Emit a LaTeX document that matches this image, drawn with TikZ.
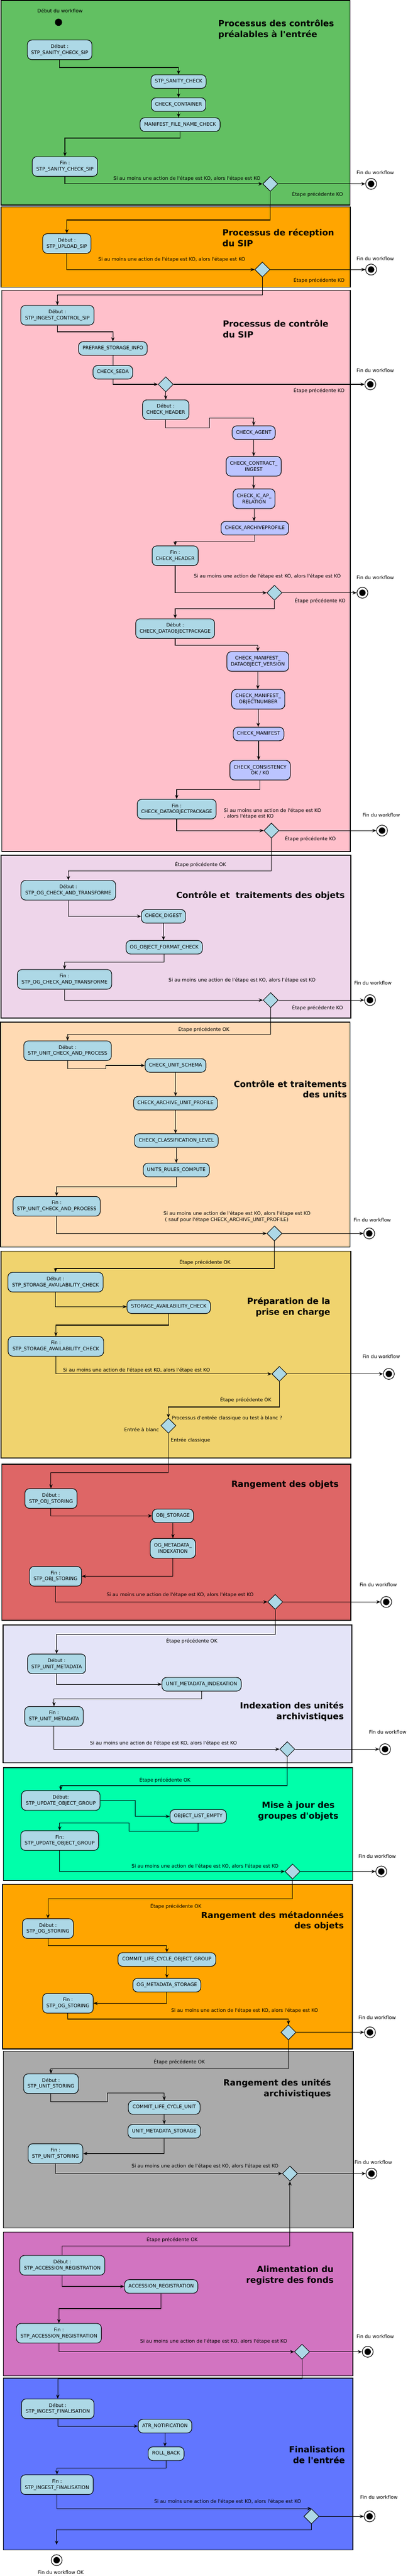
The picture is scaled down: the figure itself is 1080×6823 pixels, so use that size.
\documentclass[tikz,border=0pt]{standalone}
\usepackage{fontspec}
\setmainfont{DejaVu Sans}
\usetikzlibrary{arrows.meta,shapes.geometric}
\definecolor{nodeblue}{RGB}{173,216,230}
\definecolor{nodelav}{RGB}{187,196,255}
\definecolor{cgreen}{RGB}{98,192,98}
\definecolor{corange}{RGB}{255,165,0}
\definecolor{cpink}{RGB}{255,192,203}
\definecolor{clav}{RGB}{238,213,234}
\definecolor{cpeach}{RGB}{255,218,179}
\definecolor{cyellow}{RGB}{240,211,110}
\definecolor{cred}{RGB}{222,102,102}
\definecolor{cblue}{RGB}{228,228,248}
\definecolor{cspring}{RGB}{0,255,170}
\definecolor{cgrey}{RGB}{170,170,170}
\definecolor{corchid}{RGB}{210,116,193}
\definecolor{croyal}{RGB}{97,118,255}
\newcommand\myq{\textquotesingle}
\newcommand\nfont{\fontsize{12.7}{16}\selectfont}
\newcommand\tfont{\fontsize{22.5}{28}\selectfont\bfseries}
\newcommand\siko{Si au moins une action de l\myq étape est KO, alors l\myq étape est KO}
\begin{document}
\begin{tikzpicture}[x=1pt,y=-1pt,
  lane/.style={draw, line width=2.2pt},
  act/.style 2 args={draw, fill=nodeblue, line width=1.5pt, rounded corners=12pt, align=center, inner sep=0pt, font=\nfont, minimum width=#1pt, minimum height=#2pt},
  lact/.style 2 args={act={#1}{#2}, fill=nodelav},
  dia/.style={diamond, draw, fill=nodeblue, line width=1.3pt, minimum width=40pt, minimum height=40pt, inner sep=0pt},
  fin/.style={circle, draw, fill=white, line width=1.5pt, minimum size=29pt, inner sep=0pt, path picture={\fill[black] (path picture bounding box.center) circle (8.5pt);}},
  initst/.style={circle, fill=black, minimum size=19pt, inner sep=0pt},
  lbl/.style={font=\nfont, inner sep=0pt},
  ttl/.style={font=\tfont, inner sep=0pt},
  arr/.style={line width=1.5pt, -{Stealth[length=11pt,width=9pt,inset=4pt]}},
  ln/.style={line width=1.5pt}
]
\fill[white] (0,0) rectangle (1080,6823);
\useasboundingbox (0,0) rectangle (1080,6823);

% ---------- lanes ----------
\draw[lane, fill=cgreen] (3,1) rectangle (927,543);
\draw[lane, fill=corange] (3,548) rectangle (928,761);
\draw[lane, fill=cpink] (5,769) rectangle (928,2256);
\draw[lane, fill=clav] (3,2265) rectangle (929,2696);
\draw[lane, fill=cpeach] (1,2707) rectangle (927,3303);
\draw[lane, fill=cyellow] (3,3314) rectangle (929,3862);
\draw[lane, fill=cred] (5,3878) rectangle (929,4292);
\draw[lane, fill=cblue] (8,4304) rectangle (932,4669);
\draw[lane, fill=cspring] (9,4682) rectangle (934,4981);
\draw[lane, fill=corange] (7,4991) rectangle (933,5427);
\draw[lane, fill=cgrey] (9,5433) rectangle (936,5901);
\draw[lane, fill=corchid] (9,5912) rectangle (935,6293);
\draw[lane, fill=croyal] (9,6299) rectangle (935,6754);

% ---------- lane 1 ----------
\node[lbl] (t0) at (159,28) {Début du workflow};
\node[initst] (s0) at (155,59) {};
\node[ttl, align=left, anchor=west] (T1) at (578,78) {Processus des contrôles\\préalables à l\myq entrée};
\node[act={171}{52}] (n1a) at (158,132) {Début :\\STP\_SANITY\_CHECK\_SIP};
\node[act={146}{36}] (n1b) at (473,216) {STP\_SANITY\_CHECK};
\node[act={144}{36}] (n1c) at (473,277) {CHECK\_CONTAINER};
\node[act={212}{36}] (n1d) at (477,330) {MANIFEST\_FILE\_NAME\_CHECK};
\node[act={173}{52}] (n1e) at (172,441) {Fin :\\STP\_SANITY\_CHECK\_SIP};
\node[dia] (d1) at (716,487) {};
\node[lbl] (l1) at (495,473) {\siko};
\node[fin] (f1) at (983,487) {};
\node[lbl] (w1) at (994,457) {Fin du workflow};
\node[lbl] (k1) at (841,514) {Étape précédente KO};

% ---------- lane 2 ----------
\node[ttl, align=left, anchor=west] (T2) at (589,630) {Processus de réception\\du SIP};
\node[act={128}{52}] (n2a) at (177,645) {Début :\\STP\_UPLOAD\_SIP};
\node[lbl] (l2) at (455,687) {\siko};
\node[dia] (d2) at (695,714) {};
\node[fin] (f2) at (983,714) {};
\node[lbl] (w2) at (994,685) {Fin du workflow};
\node[lbl] (k2) at (845,743) {Étape précédente KO};

% ---------- lane 3 ----------
\node[ttl, align=left, anchor=west] (T3) at (590,871) {Processus de contrôle\\du SIP};
\node[act={194}{52}] (n3a) at (152,835) {Début :\\STP\_INGEST\_CONTROL\_SIP};
\node[act={182}{36}] (n3b) at (299,923) {PREPARE\_STORAGE\_INFO};
\node[act={105}{36}] (n3c) at (299,986) {CHECK\_SEDA};
\node[dia] (d3) at (439,1018) {};
\node[fin] (f3) at (981,1018) {};
\node[lbl] (w3) at (994,981) {Fin du workflow};
\node[lbl] (k3) at (845,1035) {Étape précédente KO};
\node[act={123}{52}] (n3d) at (439,1085) {Début :\\CHECK\_HEADER};
\node[lact={114}{36}] (n3e) at (672,1146) {CHECK\_AGENT};
\node[lact={146}{52}] (n3f) at (672,1235) {CHECK\_CONTRACT\_\\INGEST};
\node[lact={111}{52}] (n3g) at (673,1321) {CHECK\_IC\_AP\_\\RELATION};
\node[lact={179}{36}] (n3h) at (675,1399) {CHECK\_ARCHIVEPROFILE};
\node[act={122}{52}] (n3i) at (464,1472) {Fin :\\CHECK\_HEADER};
\node[lbl] (l3) at (708,1527) {\siko};
\node[dia] (d4) at (727,1570) {};
\node[fin] (f4) at (960,1570) {};
\node[lbl] (w4) at (994,1530) {Fin du workflow};
\node[lbl] (k4) at (848,1591) {Étape précédente KO};
\node[act={209}{52}] (n3j) at (464,1665) {Début :\\CHECK\_DATAOBJECTPACKAGE};
\node[lact={164}{52}] (n3k) at (683,1752) {CHECK\_MANIFEST\_\\DATAOBJECT\_VERSION};
\node[lact={141}{52}] (n3l) at (684,1852) {CHECK\_MANIFEST\_\\OBJECTNUMBER};
\node[lact={134}{36}] (n3m) at (685,1944) {CHECK\_MANIFEST};
\node[lact={160}{52}] (n3n) at (689,2040) {CHECK\_CONSISTENCY\\OK / KO};
\node[act={209}{52}] (n3o) at (468,2143) {Fin :\\CHECK\_DATAOBJECTPACKAGE};
\node[lbl, align=left, anchor=west] (l4) at (593,2155) {Si au moins une action de l\myq étape est KO\\, alors l\myq étape est KO};
\node[dia] (d5) at (719,2200) {};
\node[fin] (f5) at (1012,2200) {};
\node[lbl] (w5) at (1010,2159) {Fin du workflow};
\node[lbl] (k5) at (822,2222) {Étape précédente KO};

% ---------- lane 4 ----------
\node[lbl] (o4) at (531,2290) {Étape précédente OK};
\node[ttl] (T4) at (690,2373) {Contrôle et\ \ traitements des objets};
\node[act={251}{52}] (n4a) at (181,2358) {Début :\\STP\_OG\_CHECK\_AND\_TRANSFORME};
\node[act={117}{36}] (n4b) at (433,2427) {CHECK\_DIGEST};
\node[act={202}{36}] (n4c) at (435,2509) {OG\_OBJECT\_FORMAT\_CHECK};
\node[act={250}{52}] (n4d) at (171,2594) {Fin :\\STP\_OG\_CHECK\_AND\_TRANSFORME};
\node[lbl] (l5) at (641,2596) {\siko};
\node[dia] (d6) at (717,2649) {};
\node[fin] (f6) at (980,2649) {};
\node[lbl] (w6) at (988,2604) {Fin du workflow};
\node[lbl] (k6) at (841,2669) {Étape précédente KO};

% ---------- lane 5 ----------
\node[lbl] (o5) at (540,2727) {Étape précédente OK};
\node[act={232}{52}] (n5a) at (179,2783) {Début :\\STP\_UNIT\_CHECK\_AND\_PROCESS};
\node[act={161}{36}] (n5b) at (465,2822) {CHECK\_UNIT\_SCHEMA};
\node[ttl, align=right, anchor=east] (T5) at (919,2885) {Contrôle et traitements\\des units};
\node[act={222}{36}] (n5c) at (465,2922) {CHECK\_ARCHIVE\_UNIT\_PROFILE};
\node[act={222}{36}] (n5d) at (467,3021) {CHECK\_CLASSIFICATION\_LEVEL};
\node[act={175}{36}] (n5e) at (467,3099) {UNITS\_RULES\_COMPUTE};
\node[act={231}{52}] (n5f) at (150,3195) {Fin :\\STP\_UNIT\_CHECK\_AND\_PROCESS};
\node[lbl, align=left, anchor=west] (l6) at (433,3223) {\siko\\\hspace{4pt}( sauf pour l\myq étape CHECK\_ARCHIVE\_UNIT\_PROFILE)};
\node[dia] (d7) at (727,3267) {};
\node[fin] (f7) at (978,3267) {};
\node[lbl] (w7) at (986,3231) {Fin du workflow};

% ---------- lane 6 ----------
\node[lbl] (o6) at (543,3344) {Étape précédente OK};
\node[act={252}{52}] (n6a) at (147,3396) {Début :\\STP\_STORAGE\_AVAILABILITY\_CHECK};
\node[act={221}{36}] (n6b) at (447,3461) {STORAGE\_AVAILABILITY\_CHECK};
\node[ttl, align=right, anchor=east] (T6) at (875,3462) {Préparation de la\\prise en charge};
\node[act={253}{52}] (n6c) at (148,3566) {Fin :\\STP\_STORAGE\_AVAILABILITY\_CHECK};
\node[lbl, anchor=west] (l7) at (167,3629) {\siko};
\node[dia] (d8) at (740,3639) {};
\node[fin] (f8) at (1030,3639) {};
\node[lbl] (w8) at (1010,3593) {Fin du workflow};
\node[lbl] (o6b) at (651,3708) {Étape précédente OK};
\node[dia] (d9) at (446,3776) {};
\node[lbl, anchor=west] (q9) at (455,3757) {Processus d\myq entrée classique ou test à blanc ?};
\node[lbl, anchor=east] (b9) at (421,3787) {Entrée à blanc};
\node[lbl, anchor=west] (c9) at (452,3815) {Entrée classique};

% ---------- lane 7 ----------
\node[ttl] (T7) at (755,3933) {Rangement des objets};
\node[act={138}{52}] (n7a) at (135,3969) {Début :\\STP\_OBJ\_STORING};
\node[act={109}{36}] (n7b) at (458,4015) {OBJ\_STORAGE};
\node[act={120}{52}] (n7c) at (458,4101) {OG\_METADATA\_\\INDEXATION};
\node[act={138}{52}] (n7d) at (147,4175) {Fin :\\STP\_OBJ\_STORING};
\node[lbl] (l8) at (477,4224) {\siko};
\node[dia] (d10) at (729,4243) {};
\node[fin] (f10) at (1023,4243) {};
\node[lbl] (w10) at (1002,4198) {Fin du workflow};

% ---------- lane 8 ----------
\node[lbl] (o8) at (508,4347) {Étape précédente OK};
\node[act={154}{52}] (n8a) at (150,4407) {Début :\\STP\_UNIT\_METADATA};
\node[act={210}{36}] (n8b) at (534,4461) {UNIT\_METADATA\_INDEXATION};
\node[act={155}{52}] (n8c) at (143,4546) {Fin :\\STP\_UNIT\_METADATA};
\node[ttl, align=right, anchor=east] (T8) at (911,4533) {Indexation des unités\\archivistiques};
\node[lbl] (l9) at (433,4617) {\siko};
\node[dia] (d11) at (761,4633) {};
\node[fin] (f11) at (1020,4633) {};
\node[lbl] (w11) at (1027,4588) {Fin du workflow};

% ---------- lane 9 ----------
\node[lbl] (o9) at (437,4715) {Étape précédente OK};
\node[act={208}{52}] (n9a) at (161,4769) {Début:\\STP\_UPDATE\_OBJECT\_GROUP};
\node[act={149}{36}] (n9b) at (525,4811) {OBJECT\_LIST\_EMPTY};
\node[ttl, align=center] (T9) at (790,4797) {Mise à jour des\\groupes d\myq objets};
\node[act={206}{52}] (n9c) at (158,4875) {Fin:\\STP\_UPDATE\_OBJECT\_GROUP};
\node[lbl] (l10) at (543,4943) {\siko};
\node[dia] (d12) at (775,4957) {};
\node[fin] (f12) at (1010,4957) {};
\node[lbl] (w12) at (999,4917) {Fin du workflow};

% ---------- lane 10 ----------
\node[lbl] (o10) at (466,5049) {Étape précédente OK};
\node[ttl, align=right, anchor=east] (T10) at (911,5088) {Rangement des métadonnées\\des objets};
\node[act={135}{52}] (n10a) at (127,5108) {Début :\\STP\_OG\_STORING};
\node[act={259}{36}] (n10b) at (442,5190) {COMMIT\_LIFE\_CYCLE\_OBJECT\_GROUP};
\node[act={180}{36}] (n10c) at (442,5258) {OG\_METADATA\_STORAGE};
\node[act={134}{52}] (n10d) at (180,5306) {Fin :\\STP\_OG\_STORING};
\node[lbl] (l11) at (648,5326) {\siko};
\node[dia] (d13) at (764,5383) {};
\node[fin] (f13) at (980,5383) {};
\node[lbl] (w13) at (999,5344) {Fin du workflow};

% ---------- lane 11 ----------
\node[lbl] (o11) at (475,5461) {Étape précédente OK};
\node[act={145}{52}] (n11a) at (135,5519) {Début :\\STP\_UNIT\_STORING};
\node[ttl, align=right, anchor=east] (T11) at (877,5532) {Rangement des unités\\archivistiques};
\node[act={190}{36}] (n11b) at (435,5582) {COMMIT\_LIFE\_CYCLE\_UNIT};
\node[act={192}{36}] (n11c) at (435,5645) {UNIT\_METADATA\_STORAGE};
\node[act={145}{52}] (n11d) at (147,5704) {Fin :\\STP\_UNIT\_STORING};
\node[lbl] (l12) at (543,5738) {\siko};
\node[dia] (d14) at (768,5757) {};
\node[fin] (f14) at (984,5757) {};
\node[lbl] (w14) at (989,5727) {Fin du workflow};

% ---------- lane 12 ----------
\node[lbl] (o12) at (456,5932) {Étape précédente OK};
\node[act={225}{52}] (n12a) at (165,6000) {Début :\\STP\_ACCESSION\_REGISTRATION};
\node[ttl, align=right, anchor=east] (T12) at (884,6027) {Alimentation du\\registre des fonds};
\node[act={194}{36}] (n12b) at (427,6056) {ACCESSION\_REGISTRATION};
\node[act={225}{52}] (n12c) at (156,6180) {Fin :\\STP\_ACCESSION\_REGISTRATION};
\node[lbl] (l13) at (566,6202) {\siko};
\node[dia] (d15) at (800,6229) {};
\node[fin] (f15) at (974,6229) {};
\node[lbl] (w15) at (994,6189) {Fin du workflow};

% ---------- lane 13 ----------
\node[act={192}{52}] (n13a) at (153,6380) {Début :\\STP\_INGEST\_FINALISATION};
\node[act={142}{36}] (n13b) at (437,6426) {ATR\_NOTIFICATION};
\node[act={95}{36}] (n13c) at (440,6499) {ROLL\_BACK};
\node[ttl, align=right, anchor=east] (T13) at (914,6502) {Finalisation\\de l\myq entrée};
\node[act={192}{52}] (n13d) at (151,6581) {Fin :\\STP\_INGEST\_FINALISATION};
\node[lbl] (l14) at (603,6626) {\siko};
\node[dia] (d16) at (825,6665) {};
\node[fin] (f16) at (979,6665) {};
\node[lbl] (w16) at (1004,6614) {Fin du workflow};
\coordinate (cOK) at (150,6740);
\node[fin] (fOK) at (150,6781) {};
\node[lbl] (wOK) at (161,6814) {Fin du workflow OK};

% ---------- connectors ----------
\draw[arr] (n1a.south) -- ++(0,20) -| (n1b.north);
\draw[arr] (n1b.south) -- (n1c.north);
\draw[arr] (n1c.south) -- (n1c.south |- n1d.north);
\draw[arr] (n1d.south) -- ++(0,17) -| (n1e.north);
\draw[arr] (n1e.south) |- (d1.west);
\draw[arr] (d1.east) -- (f1.west);
\draw[arr] (d1.south) -- ++(0,75) -| (n2a.north);

\draw[arr] (n2a.south) |- (d2.west);
\draw[arr] (d2.east) -- (f2.west);
\draw[arr] (d2.south) -- ++(0,46) -| (n3a.north);

\draw[arr] (n3a.south) -- ++(0,17) -| (n3b.north);
\draw[ln] (n3b.south) -- (n3c.north);
\draw[arr] (n3c.south) |- (d3.west);
\draw[arr] (d3.east) -- (f3.west);
\draw[arr] (d3.south) -- (n3d.north);
\draw[arr] (n3d.south) -- ++(0,21) -- ++(116,0) -- ++(0,-25) -| (n3e.north);
\draw[arr] (n3e.south) -- (n3e.south |- n3f.north);
\draw[arr] (n3f.south) -- (n3f.south |- n3g.north);
\draw[arr] (n3g.south) -- (n3g.south |- n3h.north);
\draw[arr] (n3h.south) -- ++(0,16) -| (n3i.north);
\draw[arr] (n3i.south) |- (d4.west);
\draw[arr] (d4.east) -- (f4.west);
\draw[arr] (d4.south) -- ++(0,21) -| (n3j.north);
\draw[arr] (n3j.south) -- ++(0,17) -| (n3k.north);
\draw[arr] (n3k.south) -- (n3k.south |- n3l.north);
\draw[arr] (n3l.south) -- (n3l.south |- n3m.north);
\draw[arr] (n3m.south) -- (n3m.south |- n3n.north);
\draw[arr] (n3n.south) -- ++(0,25) -| (n3o.north);
\draw[arr] (n3o.south) |- (d5.west);
\draw[arr] (d5.east) -- (f5.west);
\draw[arr] (d5.south) -- ++(0,86) -| (n4a.north);

\draw[arr] (n4a.south) |- (n4b.west);
\draw[arr] (n4b.south) -- (n4b.south |- n4c.north);
\draw[arr] (n4c.south) -- ++(0,20) -| (n4d.north);
\draw[arr] (n4d.south) |- (d6.west);
\draw[arr] (d6.east) -- (f6.west);
\draw[arr] (d6.south) -- ++(0,70) -| (n5a.north);

\draw[arr] (n5a.south) -- ++(0,21) -- ++(101,0) |- (n5b.west);
\draw[arr] (n5b.south) -- (n5b.south |- n5c.north);
\draw[arr] (n5c.south) -- (n5c.south |- n5d.north);
\draw[arr] (n5d.south) -- (n5d.south |- n5e.north);
\draw[arr] (n5e.south) -- ++(0,26) -| (n5f.north);
\draw[arr] (n5f.south) |- (d7.west);
\draw[arr] (d7.east) -- (f7.west);
\draw[arr] (d7.south) -- ++(0,72) -| (n6a.north);

\draw[arr] (n6a.south) |- (n6b.west);
\draw[arr] (n6b.south) -- ++(0,30) -| (n6c.north);
\draw[arr] (n6c.south) |- (d8.west);
\draw[arr] (d8.east) -- (f8.west);
\draw[arr] (d8.south) -- ++(0,67) -| (d9.north);
\draw[arr] (d9.south) -- ++(0,104) -| (n7a.north);

\draw[arr] (n7a.south) |- (n7b.west);
\draw[arr] (n7b.south) -- (n7c.north);
\draw[arr] (n7c.south) |- (n7d.east);
\draw[arr] (n7d.south) |- (d10.west);
\draw[arr] (d10.east) -- (f10.west);
\draw[arr] (d10.south) -- ++(0,65) -| (n8a.north);

\draw[arr] (n8a.south) |- (n8b.west);
\draw[arr] (n8b.south) -- ++(0,20) -| (n8c.north);
\draw[arr] (n8c.south) |- (d11.west);
\draw[arr] (d11.east) -- (f11.west);
\draw[arr] (d11.south) -- ++(0,76) -| (n9a.north);

\draw[arr] (n9a.east) -- ++(92,0) |- (n9b.west);
\draw[arr] (n9b.south) -- ++(0,21) -- ++(-183,0) -- ++(0,-22) -| (n9c.north);
\draw[arr] (n9c.south) |- (d12.west);
\draw[arr] (d12.east) -- (f12.west);
\draw[arr] (d12.south) -- ++(0,52) -| (n10a.north);

\draw[arr] (n10a.south) -- ++(0,19) -| (n10b.north);
\draw[arr] (n10b.south) -- (n10c.north);
\draw[arr] (n10c.south) |- (n10d.east);
\draw[arr] (n10d.south) -- ++(0,15) -| (d13.north);
\draw[arr] (d13.east) -- (f13.west);
\draw[arr] (d13.south) -- ++(0,76) -| (n11a.north);

\draw[arr] (n11a.south) -- ++(0,21) -- ++(149,0) -- ++(0,-23) -| (n11b.north);
\draw[arr] (n11b.south) -- (n11c.north);
\draw[arr] (n11c.south) |- (n11d.east);
\draw[arr] (n11d.south) |- (d14.west);
\draw[arr] (d14.east) -- (f14.west);
\draw[arr] (n12a.north) -- ++(0,-24) -| (d14.south);

\draw[arr] (n12a.south) |- (n12b.west);
\draw[arr] (n12b.south) -- ++(0,40) -| (n12c.north);
\draw[arr] (n12c.south) |- (d15.west);
\draw[arr] (d15.east) -- (f15.west);
\draw[arr] (d15.south) -- ++(0,51) -| (n13a.north);

\draw[arr] (n13a.south) |- (n13b.west);
\draw[arr] (n13b.south) -- (n13b.south |- n13c.north);
\draw[arr] (n13c.south) -- ++(0,19) -| (n13d.north);
\draw[arr] (n13d.south) |- (d16.north);
\draw[arr] (d16.east) -- (f16.west);
\draw[arr] (d16.south) -- ++(0,15) -| (cOK);
\end{tikzpicture}
\end{document}
